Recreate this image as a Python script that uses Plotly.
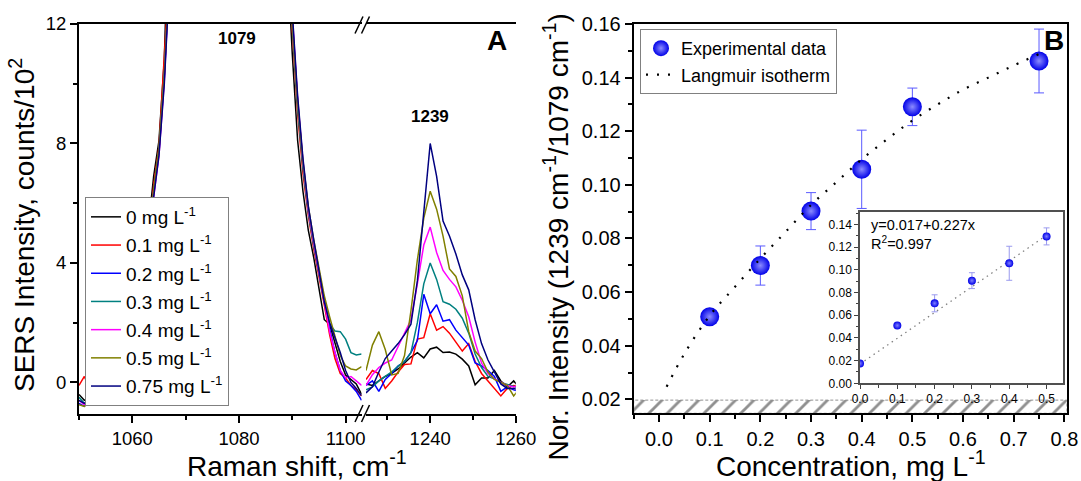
import plotly.graph_objects as go

# ---------------- data ----------------
series_names = ["0 mg L<sup>-1</sup>", "0.1 mg L<sup>-1</sup>", "0.2 mg L<sup>-1</sup>",
                "0.3 mg L<sup>-1</sup>", "0.4 mg L<sup>-1</sup>", "0.5 mg L<sup>-1</sup>",
                "0.75 mg L<sup>-1</sup>"]
series_colors = ["#000000", "#ff0000", "#0000ff", "#008080", "#ff00ff", "#808000", "#000080"]

# Raman shift (cm-1), left part of broken axis
left_x = [1050, 1051, 1052, 1053, 1054, 1056, 1058, 1060, 1062, 1063, 1064, 1065, 1066, 1067, 1068,
          1072, 1079, 1086, 1089, 1090, 1091, 1092, 1093, 1094, 1095, 1096, 1097, 1098, 1099, 1100,
          1101, 1102, 1103]
left_0 = [-0.4, -0.6, -0.5, -0.4, -0.3, -0.1, 0.3, 1.2, 3.2, 5.2, 6.9, 8.1, 10.8, 14.5, 19,
          45, 90, 45, 14.5, 11.0, 8.1, 6.4, 5.1, 4.2, 3.2, 2.1, 1.95, 1.3, 0.7, 0.25, 0.1, -0.05, -0.4]
left_01 = [-0.1, 0.2, -0.2, -0.3, -0.3, -0.1, 0.3, 1.1, 3.0, 4.9, 6.6, 7.9, 10.5, 14.0, 18.5,
           44, 88, 46, 15.0, 11.8, 9.0, 7.0, 5.6, 4.5, 3.6, 2.6, 1.6, 0.8, 0.3, 0.15, -0.1, -0.25, -0.45]
left_02 = [-0.7, -0.8, -0.55, -0.75, -0.45, -0.2, 0.2, 1.0, 2.8, 4.6, 6.3, 7.7, 10.2, 13.8, 18,
           44, 88, 46, 15.5, 12.2, 9.4, 7.3, 5.8, 4.7, 3.8, 2.8, 1.8, 1.0, 0.4, 0.05, -0.1, -0.3, -0.6]
left_03 = [-0.5, -0.7, -0.6, -0.5, -0.4, -0.2, 0.2, 1.0, 2.9, 4.7, 6.4, 7.8, 10.3, 13.9, 18,
           44, 88, 46, 15.3, 12.0, 9.2, 7.2, 5.7, 4.6, 3.7, 2.7, 1.95, 1.72, 1.7, 1.45, 1.0, 0.92, 0.95]
left_04 = [-0.6, -0.75, -0.6, -0.5, -0.4, -0.2, 0.2, 1.0, 2.8, 4.6, 6.2, 7.6, 10.1, 13.7, 18,
           44, 88, 46, 15.6, 12.3, 9.5, 7.4, 5.8, 4.7, 3.7, 2.6, 1.7, 1.0, 0.4, 0.15, 0.2, 0.05, -0.1]
left_05 = [-0.75, -0.8, -0.65, -0.55, -0.4, -0.2, 0.2, 1.0, 2.9, 4.7, 6.4, 7.8, 10.3, 13.9, 18,
           44, 88, 46, 15.4, 12.1, 9.4, 7.4, 5.9, 4.8, 3.9, 2.9, 2.2, 1.5, 0.9, 0.55, 0.45, 0.42, 0.53]
left_075 = [-0.6, -0.7, -0.6, -0.5, -0.4, -0.2, 0.2, 1.0, 2.8, 4.6, 6.2, 7.6, 10.0, 13.6, 18,
            44, 88, 46, 15.7, 12.4, 9.6, 7.5, 5.9, 4.8, 3.8, 2.7, 2.0, 1.5, 1.0, 0.4, 0.0, -0.2, -0.45]

# right part of broken axis
right_x = [1225, 1226.5, 1228, 1229.5, 1231, 1232.5, 1234, 1235.5, 1237, 1238.5, 1240, 1241.5, 1243,
           1244.5, 1246, 1247.5, 1249, 1250.5, 1252, 1253.5, 1255, 1256.5, 1258, 1259.5, 1261]
right_0 = [-0.05, -0.1, 0.05, 0.2, 0.3, 0.45, 0.65, 0.85, 1.0, 0.82, 1.12, 1.18, 1.0, 1.02, 0.95,
           0.78, 0.55, -0.08, 0.15, 0.15, 0.4, 0.05, -0.15, 0.05, -0.2]
right_01 = [0.1, 0.4, 0.3, -0.2, 0.05, 0.35, 0.6, 0.62, 1.45, 1.5, 2.3, 1.75, 1.87, 1.65, 1.35,
            1.05, 1.3, 0.7, 0.3, 0.05, -0.2, -0.45, -0.2, -0.1, -0.15]
right_02 = [-0.1, 0.05, -0.3, 0.1, 0.3, 0.55, 0.7, 1.0, 1.4, 2.95, 2.3, 2.6, 2.05, 2.1, 1.75,
            1.5, 1.25, 0.65, 0.55, 0.4, 0.2, -0.3, -0.15, -0.25, -0.3]
right_03 = [-0.25, -0.15, 0.05, 0.2, 0.35, 0.55, 0.7, 1.0, 2.0, 3.3, 4.0, 3.45, 2.7, 2.62, 2.45,
            2.15, 1.65, 0.95, 0.5, 0.2, 0.12, 0.0, -0.07, -0.15, -0.2]
right_04 = [-0.1, 0.26, 0.5, 0.65, 0.75, 1.2, 1.7, 2.1, 3.3, 4.6, 5.2, 4.35, 3.75, 3.45, 3.2,
            2.75, 2.2, 1.35, 0.65, 0.3, 0.12, 0.0, -0.1, -0.15, -0.1]
right_05 = [0.4, 1.25, 1.7, 1.1, 0.25, 0.3, 0.9, 2.4, 4.1, 5.5, 6.4, 5.8, 4.9, 3.8, 3.55,
            2.9, 1.7, 1.05, 0.8, 0.35, 0.1, 0.0, -0.1, -0.45, -0.2]
right_075 = [-0.35, -0.15, 0.35, 0.8, 1.05, 1.3, 1.6, 1.95, 3.4, 5.8, 8.0, 6.9, 5.4, 4.9, 4.3,
             3.6, 3.1, 2.1, 1.3, 0.75, 0.35, -0.05, -0.2, -0.2, -0.25]

left_series = [left_0, left_01, left_02, left_03, left_04, left_05, left_075]
right_series = [right_0, right_01, right_02, right_03, right_04, right_05, right_075]

# Panel B: normalised intensity vs concentration
conc = [0.1, 0.2, 0.3, 0.4, 0.5, 0.75]
ratio = [0.0508, 0.0699, 0.0902, 0.1058, 0.1291, 0.1462]
ratio_err = [0.001, 0.0073, 0.0069, 0.0146, 0.0070, 0.0119]

lang_x = [0.015, 0.05, 0.1, 0.15, 0.2, 0.25, 0.3, 0.35, 0.4, 0.45, 0.5, 0.55, 0.6, 0.65, 0.7, 0.75]
lang_y = [0.0247, 0.037, 0.0512, 0.062, 0.0725, 0.0825, 0.0925, 0.101, 0.1095, 0.117, 0.124,
          0.130, 0.1355, 0.140, 0.1445, 0.1488]

# Inset: linear range
inset_x = [0.0, 0.1, 0.2, 0.3, 0.4, 0.5]
inset_y = [0.0175, 0.051, 0.0705, 0.0905, 0.1058, 0.1295]
inset_err = [0.0, 0.0, 0.0075, 0.007, 0.015, 0.0075]
fit_x = [0.0, 0.5]
fit_y = [0.017, 0.1305]

break_band = [0.01478, 0.0197]

# ---------------- layout helpers ----------------
W, H = 1081, 481
FONT = "Liberation Sans, Arial, sans-serif"


def fx(p):
    return p / W


def fy(p):
    return 1 - p / H


def axis_style(size, **kw):
    d = dict(showline=True, linecolor="black", linewidth=2, ticks="outside", ticklen=7,
             tickwidth=1.5, tickcolor="black", showgrid=False, zeroline=False, automargin=False,
             tickfont=dict(family=FONT, size=size, color="black"))
    d.update(kw)
    return d


fig = go.Figure()

# Panel A spectra
for i in range(7):
    fig.add_trace(go.Scatter(x=left_x, y=left_series[i], mode="lines", xaxis="x", yaxis="y",
                             line=dict(color=series_colors[i], width=1.5), name=series_names[i],
                             legendgroup="g%d" % i, legend="legend"))
    fig.add_trace(go.Scatter(x=right_x, y=right_series[i], mode="lines", xaxis="x2", yaxis="y",
                             line=dict(color=series_colors[i], width=1.5), showlegend=False,
                             legendgroup="g%d" % i))

# Panel B hatched axis-break band
fig.add_trace(go.Scatter(x=[-0.05, 0.805, 0.805, -0.05, -0.05],
                         y=[break_band[0], break_band[0], break_band[1], break_band[1], break_band[0]],
                         mode="lines", fill="toself", fillcolor="rgba(0,0,0,0)",
                         fillpattern=dict(shape="/", fgcolor="#202020", bgcolor="white", size=13, solidity=0.22),
                         line=dict(color="#909090", width=1, dash="3px,2px"),
                         xaxis="x3", yaxis="y2", showlegend=False, hoverinfo="skip"))

fig.add_trace(go.Scatter(x=conc, y=ratio, mode="markers", xaxis="x3", yaxis="y2",
                         error_y=dict(type="data", array=ratio_err, color="#5a5aff", thickness=1, width=5),
                         marker=dict(size=19, color="#0000e8", gradient=dict(type="radial", color="#8c8cff"),
                                     line=dict(width=0)),
                         name="Experimental data", legend="legend2"))
fig.add_trace(go.Scatter(x=lang_x, y=lang_y, mode="lines", xaxis="x3", yaxis="y2",
                         line=dict(color="black", width=2.2, dash="2px,9px", shape="spline"),
                         name="Langmuir isotherm", legend="legend2"))

# Inset
fig.add_trace(go.Scatter(x=fit_x, y=fit_y, mode="lines", xaxis="x4", yaxis="y3",
                         line=dict(color="#808080", width=1.3, dash="1.5px,4px"), showlegend=False))
fig.add_trace(go.Scatter(x=inset_x, y=inset_y, mode="markers", xaxis="x4", yaxis="y3",
                         error_y=dict(type="data", array=inset_err, color="#9a9aee", thickness=1, width=3),
                         marker=dict(size=8, color="#0000e8", gradient=dict(type="radial", color="#8080ff"),
                                     line=dict(width=0)),
                         showlegend=False))

yA_range = [-1.04, 12]

fig.update_layout(
    width=W, height=H, autosize=False,
    margin=dict(l=0, r=0, t=0, b=0, autoexpand=False),
    paper_bgcolor="white", plot_bgcolor="white",
    font=dict(family=FONT, color="black"),
    showlegend=True,
    xaxis=axis_style(18.5, domain=[fx(79), fx(361.6)], anchor="y", range=[1050, 1103], mirror=True,
                     tickmode="linear", tick0=1060, dtick=20,
                     minor=dict(ticks="outside", ticklen=4, tickwidth=1.5, tickcolor="black", tick0=1050, dtick=10)),
    xaxis2=axis_style(18.5, domain=[fx(366), fx(515.8)], anchor="y", range=[1225, 1260], mirror=True,
                      tickmode="linear", tick0=1240, dtick=20,
                      minor=dict(ticks="outside", ticklen=4, tickwidth=1.5, tickcolor="black", tick0=1230, dtick=10)),
    yaxis=axis_style(18.5, domain=[fy(413.5), fy(24)], anchor="x", range=yA_range,
                     tickmode="linear", tick0=0, dtick=4,
                     minor=dict(ticks="outside", ticklen=4, tickwidth=1.5, tickcolor="black", tick0=0, dtick=2)),
    yaxis4=dict(overlaying="y", anchor="x2", side="right", range=yA_range, showline=True, linecolor="black",
                linewidth=2, ticks="", showticklabels=False, showgrid=False, zeroline=False, automargin=False),
    xaxis3=axis_style(20, domain=[fx(633.7), fx(1066.9)], anchor="y2", range=[-0.05, 0.805], mirror=True,
                      tickmode="linear", tick0=0, dtick=0.1, tickformat=".1f",
                      minor=dict(ticks="outside", ticklen=4, tickwidth=1.5, tickcolor="black", tick0=0.05, dtick=0.1)),
    yaxis2=axis_style(20, domain=[fy(413.3), fy(24)], anchor="x3", range=[break_band[0], 0.16], mirror=True,
                      tickmode="linear", tick0=0, dtick=0.02, tickformat=".2f",
                      minor=dict(ticks="outside", ticklen=4, tickwidth=1.5, tickcolor="black", tick0=0.01, dtick=0.02)),
    xaxis4=axis_style(12, domain=[fx(860), fx(1062.6)], anchor="y3", range=[0, 0.543], mirror=True,
                      linecolor="#505050", linewidth=1.5, ticklen=4, tickwidth=1, tickcolor="#404040",
                      tickmode="linear", tick0=0, dtick=0.1, tickformat=".1f",
                      minor=dict(ticks="outside", ticklen=2.5, tickwidth=1, tickcolor="#404040", tick0=0.05, dtick=0.1)),
    yaxis3=axis_style(12, domain=[fy(383.3), fy(212)], anchor="x4", range=[0, 0.151], mirror=True,
                      linecolor="#505050", linewidth=1.5, ticklen=4, tickwidth=1, tickcolor="#404040",
                      tickmode="linear", tick0=0, dtick=0.02, tickformat=".2f",
                      minor=dict(ticks="outside", ticklen=2.5, tickwidth=1, tickcolor="#404040", tick0=0.01, dtick=0.02)),
    legend=dict(x=fx(85), y=fy(197), xanchor="left", yanchor="top", bgcolor="white",
                bordercolor="#808080", borderwidth=1, font=dict(family=FONT, size=19, color="black"),
                tracegroupgap=0.5, itemwidth=30),
    legend2=dict(x=fx(640), y=fy(29), xanchor="left", yanchor="top", bgcolor="white",
                 bordercolor="#808080", borderwidth=1, font=dict(family=FONT, size=18, color="black"),
                 tracegroupgap=0, itemwidth=30),
)

annotations = [
    dict(text="<b>1079</b>", x=fx(236.7), y=fy(38.5), font=dict(size=17)),
    dict(text="<b>1239</b>", x=fx(429.7), y=fy(117), font=dict(size=17)),
    dict(text="<b>A</b>", x=fx(496.7), y=fy(41), font=dict(size=28)),
    dict(text="<b>B</b>", x=fx(1054), y=fy(41), font=dict(size=28)),
    # axis titles
    dict(text="Raman shift, cm<sup>-1</sup>", x=fx(297.4), y=fy(464), font=dict(size=28)),
    dict(text="Concentration, mg L<sup>-1</sup>", x=fx(851), y=fy(464), font=dict(size=28)),
    dict(text="SERS Intensity, counts/10<sup>2</sup>", x=fx(22), y=fy(225), font=dict(size=28),
         textangle=-90),
    dict(text="Nor. Intensity (1239 cm<sup>-1</sup>/1079 cm<sup>-1</sup>)", x=fx(557), y=fy(237.5),
         font=dict(size=28), textangle=-90),
    # inset fit text
    dict(text="y=0.017+0.227x", x=fx(869), y=fy(225), xanchor="left", font=dict(size=14.5)),
    dict(text="R<sup>2</sup>=0.997", x=fx(869), y=fy(243.5), xanchor="left", font=dict(size=14.5)),
]
for a in annotations:
    a.setdefault("xanchor", "center")
    a.update(xref="paper", yref="paper", yanchor="middle", showarrow=False)
    a["font"] = dict(family=FONT, color="black", size=a["font"]["size"])
    fig.add_annotation(**a)

# axis-break marks "//" on top and bottom of panel A
for ytop, ybot in [(16.5, 33.5), (405, 422)]:
    for dx in (0, 6.5):
        fig.add_shape(type="line", xref="paper", yref="paper",
                      x0=fx(355 + dx), y0=fy(ybot), x1=fx(363 + dx), y1=fy(ytop),
                      line=dict(color="black", width=1.5))

fig.write_html("out.html", config={"displayModeBar": False},
               post_script="document.body.style.margin='0';document.body.style.padding='0';"
                           "document.body.style.overflow='hidden';")
